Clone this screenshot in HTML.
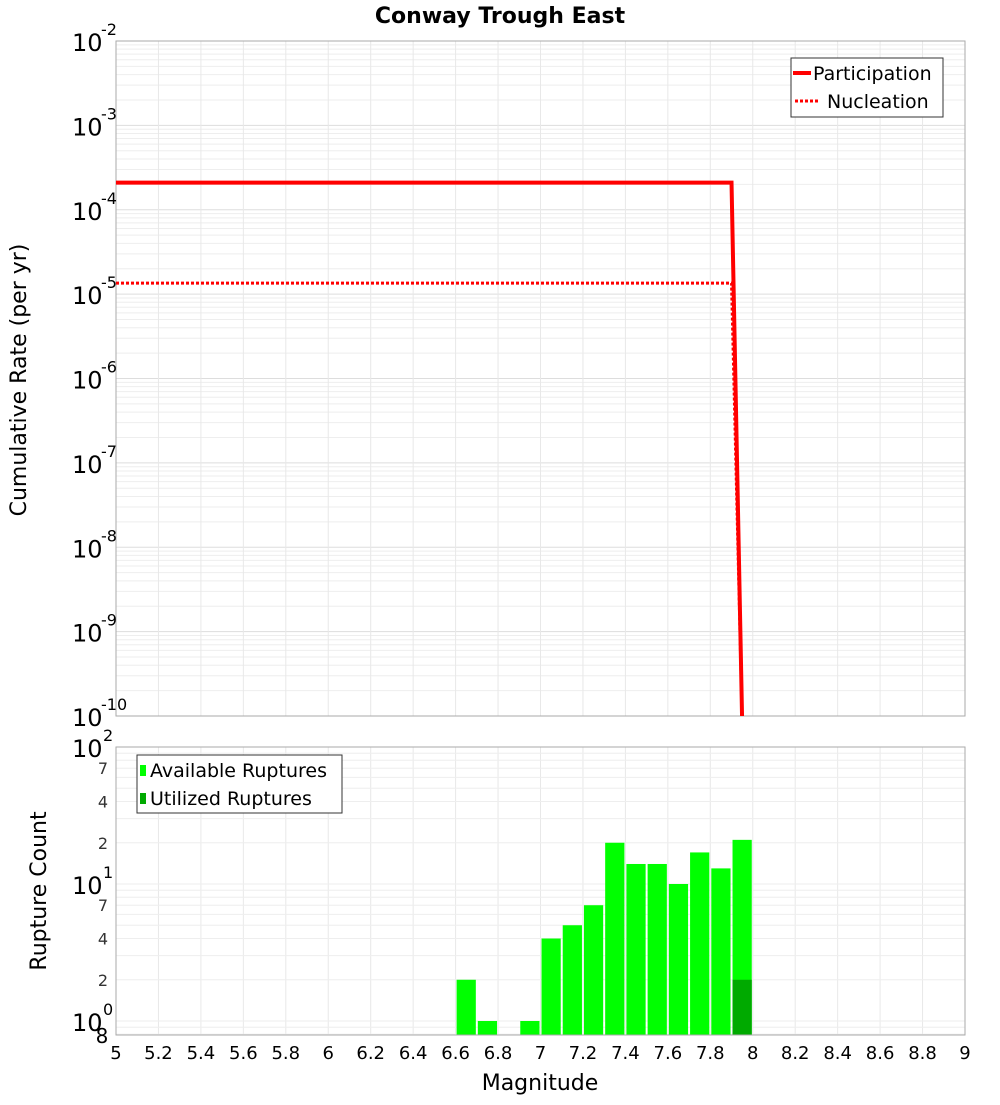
<!DOCTYPE html>
<html><head><meta charset="utf-8"><style>
body{margin:0;background:#fff;}
svg text{font-family:"DejaVu Sans","Liberation Sans",sans-serif;}
</style></head><body>
<svg id="c" width="1000" height="1100" xmlns="http://www.w3.org/2000/svg">
<text x="500" y="23" text-anchor="middle" font-size="22" font-weight="bold">Conway Trough East</text>
<g id="topg"></g>
<g id="botg"></g>
<text transform="translate(26,380) rotate(-90)" text-anchor="middle" font-size="22">Cumulative Rate (per yr)</text>
<text transform="translate(46,891) rotate(-90)" text-anchor="middle" font-size="22">Rupture Count</text>
<text x="540" y="1090" text-anchor="middle" font-size="22">Magnitude</text>
<g id="leg1">
<rect x="791" y="58" width="152" height="59" fill="#fff" stroke="#333" stroke-width="1"/>
<line x1="793" y1="73" x2="811" y2="73" stroke="red" stroke-width="4"/>
<text x="813" y="80" font-size="19">Participation</text>
<line x1="795" y1="101" x2="820" y2="101" stroke="red" stroke-width="3" stroke-dasharray="3,2"/>
<text x="827" y="108" font-size="19">Nucleation</text>
</g>
<g id="leg2">
<rect x="137" y="755" width="205" height="58" fill="#fff" stroke="#333" stroke-width="1"/>
<rect x="140" y="765" width="6" height="11" fill="#00ff00"/>
<text x="150" y="777" font-size="19">Available Ruptures</text>
<rect x="140" y="793" width="6" height="11" fill="#00aa00"/>
<text x="150" y="805" font-size="19">Utilized Ruptures</text>
</g>
</svg>
<script>
const mags=[5,7.9,7.95];
const participation=[2.1e-4,2.1e-4,1e-11];
const nucleation=[1.35e-5,1.35e-5,1e-11];
const binMags=[6.6,6.7,6.9,7.0,7.1,7.2,7.3,7.4,7.5,7.6,7.7,7.8,7.9];
const available=[2,1,1,4,5,7,20,14,14,10,17,13,21];
const utilized=[0,0,0,0,0,0,0,0,0,0,0,0,2];
const xTicks=[5,5.2,5.4,5.6,5.8,6,6.2,6.4,6.6,6.8,7,7.2,7.4,7.6,7.8,8,8.2,8.4,8.6,8.8,9];
const NS='http://www.w3.org/2000/svg';
const X0=116,X1=965;
const xS=m=>X0+(m-5)/4*(X1-X0);
const T0=41,T1=716;
const yT=v=>T0+(-2-Math.log10(v))/8*(T1-T0);
const B0=747,B1=1035,BD=137;
const yB=v=>B0+(2-Math.log10(v))*BD;
function mk(p,tag,a){const e=document.createElementNS(NS,tag);for(const k in a)e.setAttribute(k,a[k]);p.appendChild(e);return e;}
const topG=document.getElementById('topg'),botG=document.getElementById('botg'),svgEl=document.getElementById('c');
for(let d=-10;d<-2;d++)for(let k=1;k<10;k++){const y=yT(k*Math.pow(10,d));
 const l=mk(topG,'line',{x1:X0,x2:X1,y1:y,y2:y,stroke:k==1?'#ddd':'#eee','stroke-width':1});
 
 }
xTicks.forEach(t=>{const l=mk(topG,'line',{x1:xS(t),x2:xS(t),y1:T0,y2:T1,stroke:'#e8e8e8'});
 
 
 const l2=mk(botG,'line',{x1:xS(t),x2:xS(t),y1:B0,y2:B1,stroke:'#e8e8e8'});
 
 
 const tx=mk(svgEl,'text',{x:xS(t),y:1059,'text-anchor':'middle','font-size':18});tx.textContent=String(t);
 
 });
for(let d=-10;d<=-2;d++){const y=yT(Math.pow(10,d));
 const t=mk(svgEl,'text',{x:72,y:y+10,'font-size':24});t.textContent='10';
 
 
 const s=mk(svgEl,'text',{x:101,y:y-6,'font-size':16});s.textContent=String(d);
 
 }
mk(topG,'rect',{x:X0,y:T0,width:X1-X0,height:T1-T0,fill:'none',stroke:'#aaa'});
const defs=mk(svgEl,'defs',{});const cl=mk(defs,'clipPath',{id:'clipT'});mk(cl,'rect',{x:X0,y:T0,width:X1-X0,height:T1-T0});
function path(vals,dash,w){let d='';vals.forEach((v,i)=>{d+=(i?'L':'M')+xS(mags[i])+','+Math.min(yT(v),T1+5);});
 return mk(topG,'path',{d:d,fill:'none',stroke:'red','stroke-width':w,'stroke-dasharray':dash,'clip-path':'url(#clipT)'});}
const p1=path(participation,'none',4);


const p2=path(nucleation,'3,2',3);


[0.8,0.9,1,2,3,4,5,6,7,8,9,10,20,30,40,50,60,70,80,90,100].forEach(v=>{const y=yB(v);
 const l=mk(botG,'line',{x1:X0,x2:X1,y1:y,y2:y,stroke:'#eee'});
 
 });
[[2,'10','2'],[1,'10','1'],[0,'10','0']].forEach(([e,b,s])=>{const y=yB(Math.pow(10,e));
 const t=mk(svgEl,'text',{x:72,y:y+10,'font-size':24});t.textContent=b;
 
 
 const u=mk(svgEl,'text',{x:103,y:y-6,'font-size':16});u.textContent=s;
 
 });
[2,4,7,20,40,70].forEach(v=>{const t=mk(svgEl,'text',{x:103,y:yB(v)+6,'text-anchor':'middle','font-size':16,fill:'#333'});t.textContent=String(v<10?v:v/10);
 
 });
const t8=mk(svgEl,'text',{x:102,y:1043,'text-anchor':'middle','font-size':20});t8.textContent='8';


const bw=xS(5.1)-xS(5);
binMags.forEach((m,i)=>{if(available[i]>0){const y=yB(available[i]);
 const r=mk(botG,'rect',{x:xS(m)+1,y:y,width:bw-2,height:B1-y,fill:'#00ff00'});
 
 }
 if(utilized[i]>0){const y=yB(utilized[i]);
 const r=mk(botG,'rect',{x:xS(m)+1,y:y,width:bw-2,height:B1-y,fill:'#00aa00'});
 
 }});
mk(botG,'rect',{x:X0,y:B0,width:X1-X0,height:B1-B0,fill:'none',stroke:'#aaa'});
svgEl.appendChild(document.getElementById('leg1'));
svgEl.appendChild(document.getElementById('leg2'));
</script>
</body></html>
